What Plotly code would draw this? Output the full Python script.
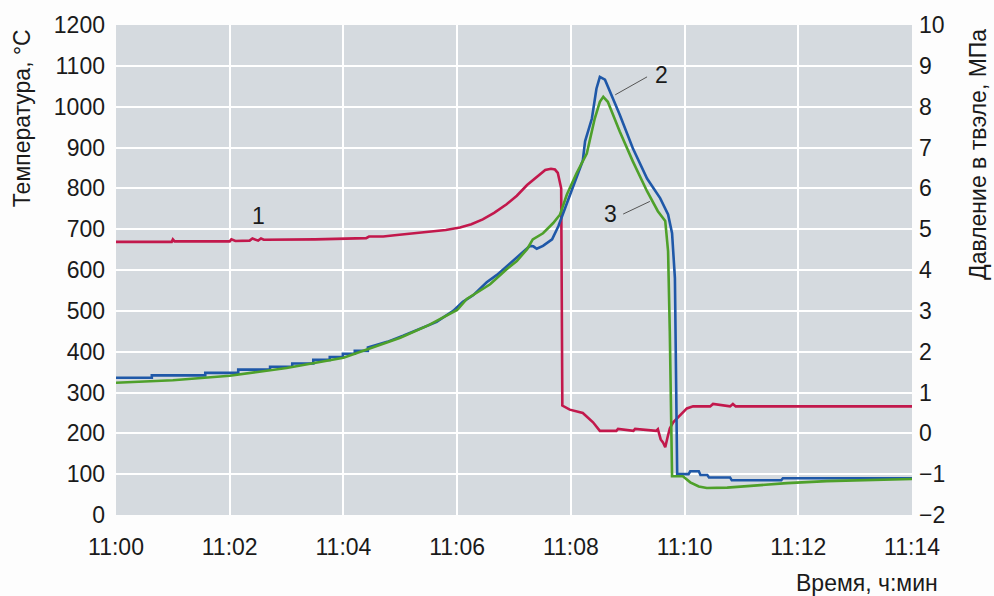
import plotly.graph_objects as go

# Time axis in minutes after 11:00
x_tickvals = [0, 2, 4, 6, 8, 10, 12, 14]
x_ticktext = ["11:00", "11:02", "11:04", "11:06", "11:08", "11:10", "11:12", "11:14"]

# Curve 1: pressure inside the fuel rod, MPa
red_t = [0, 0.98, 1.0, 1.03, 2.0, 2.03, 2.1, 2.35, 2.4, 2.5, 2.55, 2.6, 3.5, 4.0,
         4.4, 4.45, 4.7, 4.9, 5.3, 5.5, 5.8, 6.05, 6.25, 6.45, 6.65, 6.87, 7.05,
         7.23, 7.35, 7.46, 7.55, 7.65, 7.72, 7.77, 7.81, 7.83, 7.85, 7.98, 8.21,
         8.39, 8.51, 8.8, 8.83, 9.1, 9.13, 9.4, 9.5, 9.53, 9.58, 9.62, 9.66, 9.7,
         9.74, 9.8, 9.92, 10.04, 10.15, 10.45, 10.5, 10.8, 10.85, 10.9, 14.0]
red_p = [4.69, 4.69, 4.75, 4.70, 4.70, 4.75, 4.71, 4.72, 4.77, 4.72, 4.77, 4.74,
         4.75, 4.77, 4.78, 4.82, 4.82, 4.85, 4.90, 4.93, 4.98, 5.04, 5.12, 5.24,
         5.40, 5.61, 5.82, 6.08, 6.22, 6.36, 6.45, 6.48, 6.46, 6.38, 6.12, 6.0,
         0.68, 0.58, 0.50, 0.27, 0.06, 0.06, 0.11, 0.06, 0.11, 0.06, 0.06, 0.10,
         -0.15, -0.22, -0.34, -0.10, 0.12, 0.27, 0.44, 0.61, 0.66, 0.66, 0.72,
         0.66, 0.72, 0.66, 0.66]

# Curve 2: cladding temperature, °C
blue_t = [0, 0.63, 0.63, 1.57, 1.57, 2.15, 2.15, 2.71, 2.71, 3.1, 3.1, 3.47, 3.47,
          3.76, 3.76, 3.99, 3.99, 4.2, 4.2, 4.43, 4.43, 4.77, 5.05, 5.35, 5.64,
          5.93, 6.1, 6.28, 6.52, 6.7, 6.88, 7.1, 7.28, 7.34, 7.4, 7.51, 7.67,
          7.78, 7.93, 8.1, 8.21, 8.25, 8.37, 8.45, 8.51, 8.6, 8.69, 8.86, 9.09,
          9.34, 9.57, 9.71, 9.78, 9.83, 9.87, 10.07, 10.1, 10.25, 10.28, 10.4,
          10.43, 10.8, 10.83, 11.7, 11.73, 14.0]
blue_T = [336, 336, 342, 342, 348, 348, 356, 356, 363, 363, 371, 371, 380, 380,
          387, 387, 395, 395, 402, 402, 410, 424, 439, 456, 473, 500, 522, 538,
          570, 588, 610, 639, 659, 658, 652, 659, 675, 707, 763, 829, 868, 915,
          971, 1044, 1073, 1066, 1037, 980, 898, 824, 776, 736, 690, 580, 100,
          100, 107, 107, 98, 98, 92, 92, 85, 85, 90, 90]

# Curve 3: coolant temperature, °C
green_t = [0, 1.0, 2.0, 3.0, 4.0, 5.0, 5.5, 6.0, 6.17, 6.58, 6.87, 7.05, 7.23,
           7.33, 7.51, 7.69, 7.81, 7.93, 8.1, 8.28, 8.42, 8.51, 8.57, 8.65, 8.86,
           9.09, 9.34, 9.53, 9.66, 9.71, 9.74, 9.78, 9.97, 10.1, 10.25, 10.39,
           10.75, 11.2, 11.8, 12.5, 13.2, 14.0]
green_T = [324, 330, 341, 360, 385, 434, 465, 502, 529, 565, 602, 622, 651, 675,
           690, 715, 736, 785, 837, 885, 971, 1012, 1024, 1012, 939, 866, 793,
           744, 720, 646, 450, 95, 95, 80, 70, 66, 67, 72, 78, 83, 86, 88]

RED = "#c2184c"
BLUE = "#1f58a8"
GREEN = "#4ea02a"
FONT = "Liberation Sans, Arial, sans-serif"
TXT = "#1a1a1a"

fig = go.Figure()
fig.add_trace(go.Scatter(x=red_t, y=red_p, mode="lines", yaxis="y",
                         line=dict(color=RED, width=2.6), showlegend=False))
fig.add_trace(go.Scatter(x=blue_t, y=blue_T, mode="lines", yaxis="y2",
                         line=dict(color=BLUE, width=2.6), showlegend=False))
fig.add_trace(go.Scatter(x=green_t, y=green_T, mode="lines", yaxis="y2",
                         line=dict(color=GREEN, width=2.6), showlegend=False))

# Curve labels with leader lines
fig.add_annotation(x=2.5, y=732, xref="x", yref="y2", text="1", showarrow=False,
                   font=dict(family=FONT, size=23, color=TXT))
fig.add_annotation(x=9.6, y=1078, xref="x", yref="y2", text="2", showarrow=False,
                   font=dict(family=FONT, size=23, color=TXT))
fig.add_annotation(x=8.7, y=737, xref="x", yref="y2", text="3", showarrow=False,
                   font=dict(family=FONT, size=23, color=TXT))
fig.add_shape(type="line", xref="x", yref="y2", x0=9.34, y0=1073, x1=8.78, y1=1029,
              line=dict(color="#555555", width=1))
fig.add_shape(type="line", xref="x", yref="y2", x0=8.92, y0=737, x1=9.39, y1=768,
              line=dict(color="#555555", width=1))

# Axis titles
fig.add_annotation(xref="paper", yref="paper", x=1.035, y=-0.138, xanchor="right",
                   yanchor="middle", text="Время, ч:мин", showarrow=False,
                   font=dict(family=FONT, size=23, color=TXT))
fig.add_annotation(xref="paper", yref="paper", x=-0.118, y=0.81, textangle=-90,
                   xanchor="center", yanchor="middle", text="Температура, °C",
                   showarrow=False, font=dict(family=FONT, size=23, color=TXT))
fig.add_annotation(xref="paper", yref="paper", x=1.083, y=0.735, textangle=-90,
                   xanchor="center", yanchor="middle", text="Давление в твэле, МПа",
                   showarrow=False, font=dict(family=FONT, size=23, color=TXT))

fig.update_layout(
    width=994, height=596,
    margin=dict(l=116, r=82, t=23, b=81),
    paper_bgcolor="#fdfdfd",
    plot_bgcolor="#d5dadf",
    font=dict(family=FONT, size=23, color=TXT),
    xaxis=dict(range=[0, 14], tickvals=x_tickvals, ticktext=x_ticktext,
               showgrid=True, gridcolor="white", gridwidth=2, zeroline=False,
               showline=False, ticks="", ticklabelstandoff=16),
    yaxis=dict(range=[-2, 10], side="right", dtick=1, tick0=0,
               showgrid=True, gridcolor="white", gridwidth=2, zeroline=False,
               showline=False, ticks="", ticklabelstandoff=6),
    yaxis2=dict(range=[0, 1200], side="left", overlaying="y", dtick=100,
                showgrid=False, zeroline=False, showline=False, ticks="",
                ticklabelstandoff=10),
)

fig.write_html("out.html")
